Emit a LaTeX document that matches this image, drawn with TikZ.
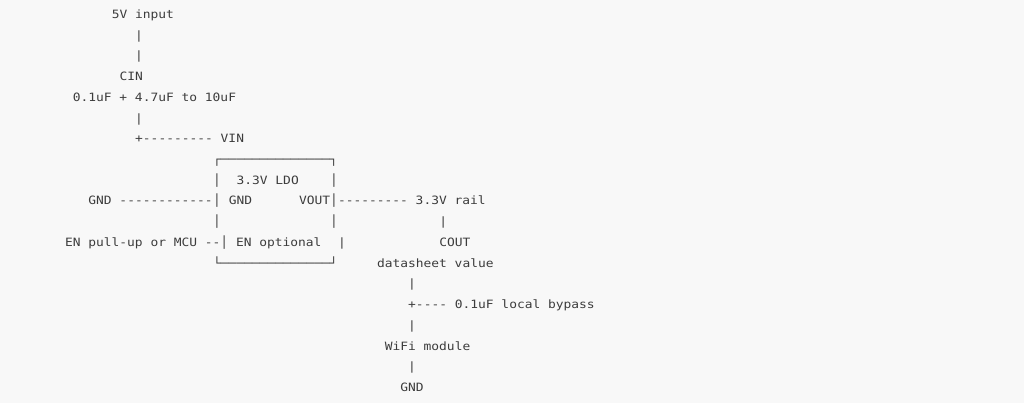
\documentclass[tikz,border=0pt]{standalone}
\usepackage{fontspec}
\newfontfamily\asciimono[FakeStretch=1.127,Ligatures=TeXOff]{DejaVu Sans Mono}
\definecolor{bgcol}{HTML}{F8F8F8}
\definecolor{inkcol}{HTML}{3C3C3C}
\begin{document}
\begin{tikzpicture}[
  asc/.style={anchor=base west, inner sep=0pt, outer sep=0pt, text=inkcol,
    font=\asciimono\fontsize{11.5}{13}\selectfont}]
\fill[bgcol] (0bp,0bp) rectangle (1024bp,-403bp);
\useasboundingbox (0bp,0bp) rectangle (1024bp,-403bp);
\begin{scope}[x=7.8bp, y=-20.72bp, shift={(65bp,2.22bp)}]
% input side
\node[asc] (in)    at (6,1) {5V input};
\node[asc] (v1)    at (9,2) {|};
\node[asc] (v2)    at (9,3) {|};
\node[asc] (cin)   at (7,4) {CIN};
\node[asc] (cinv)  at (1,5) {0.1uF + 4.7uF to 10uF};
\node[asc] (v3)    at (9,6) {|};
\node[asc] (vin)   at (9,7) {+--------- VIN};
% LDO box
\node[asc] (btop)  at (19,8) {┌──────────────┐};
\node[asc] (bl9)   at (19,9) {│};
\node[asc] (ldo)   at (22,9) {3.3V LDO};
\node[asc] (br9)   at (34,9) {│};
\node[asc] (gndl)  at (3,10) {GND ------------};
\node[asc] (bl10)  at (19,10) {│};
\node[asc] (gndp)  at (21,10) {GND};
\node[asc] (vout)  at (30,10) {VOUT};
\node[asc] (br10)  at (34,10) {│};
\node[asc] (rail)  at (35,10) {--------- 3.3V rail};
\node[asc] (bl11)  at (19,11) {│};
\node[asc] (br11)  at (34,11) {│};
\node[asc] (v4)    at (48,11) {|};
\node[asc] (en)    at (0,12) {EN pull-up or MCU --│ EN optional};
\node[asc] (br12)  at (35,12) {|};
\node[asc] (cout)  at (48,12) {COUT};
\node[asc] (bbot)  at (19,13) {└──────────────┘};
% output side
\node[asc] (dsv)   at (40,13) {datasheet value};
\node[asc] (v5)    at (44,14) {|};
\node[asc] (byp)   at (44,15) {+---- 0.1uF local bypass};
\node[asc] (v6)    at (44,16) {|};
\node[asc] (wifi)  at (41,17) {WiFi module};
\node[asc] (v7)    at (44,18) {|};
\node[asc] (gndo)  at (43,19) {GND};
\end{scope}
\end{tikzpicture}
\end{document}
